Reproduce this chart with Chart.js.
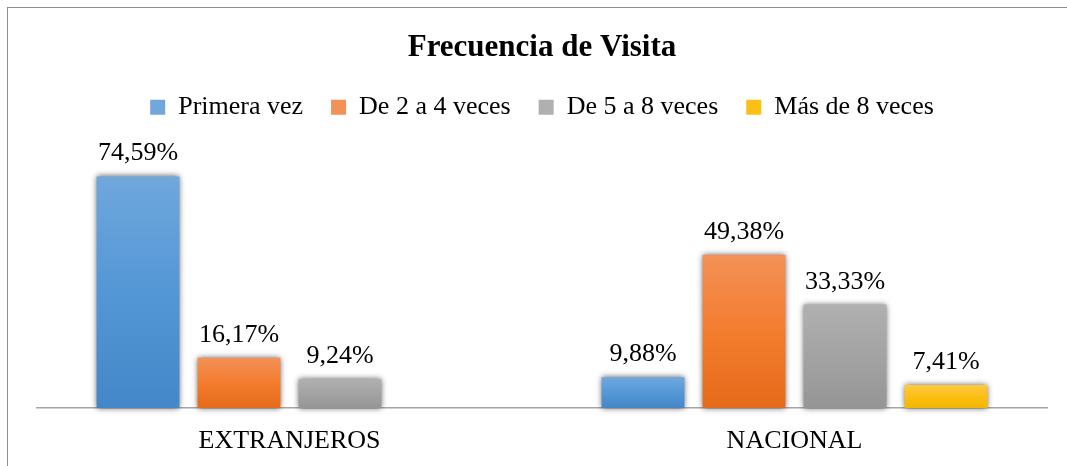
<!DOCTYPE html>
<html lang="es">
<head>
    <meta charset="UTF-8">
    <title>Frecuencia de Visita</title>
    <script src="https://cdn.jsdelivr.net/npm/chart.js"></script>
    <style>
        body { margin: 0; background: #fff; overflow: hidden; }
        #frame { position: absolute; left: 7px; top: 7px; width: 1100px; height: 500px; border: 1px solid #8e8e8e; }
        #visitChart { position: absolute; left: 0; top: 0; }
    </style>
</head>
<body>
    <div id="frame"></div>
    <canvas id="visitChart" width="1067" height="466"></canvas>
    <script>
        const categories = ['EXTRANJEROS', 'NACIONAL'];
        const seriesNames = ['Primera vez', 'De 2 a 4 veces', 'De 5 a 8 veces', 'Más de 8 veces'];
        const primeraVez = [74.59, 9.88];
        const de2a4 = [16.17, 49.38];
        const de5a8 = [9.24, 33.33];
        const masDe8 = [null, 7.41];

        const FONT = '"Liberation Serif", "Times New Roman", serif';

        // top, mid, bottom colours of each bar gradient
        const palette = [
            ['#70a7dd', '#5397d6', '#4387c8'],
            ['#f29158', '#f47c2e', '#e56b1a'],
            ['#b0b0b0', '#a3a3a3', '#959595'],
            ['#ffc940', '#fcbf14', '#f2b700']
        ];

        function barFill(colors) {
            return function(ctx) {
                const chart = ctx.chart;
                if (ctx.type !== 'data' || !chart.chartArea || ctx.raw == null) return colors[1];
                const y = chart.scales.y;
                const top = y.getPixelForValue(ctx.raw);
                const bottom = y.getPixelForValue(0);
                const g = chart.ctx.createLinearGradient(0, top, 0, bottom);
                g.addColorStop(0, colors[0]);
                g.addColorStop(0.5, colors[1]);
                g.addColorStop(1, colors[2]);
                return g;
            };
        }

        function fmt(v) {
            return v.toFixed(2).replace('.', ',') + '%';
        }

        // soft shadow behind the bars, then the value labels on top
        const barDecor = {
            id: 'barDecor',
            beforeDatasetsDraw(chart) {
                const ctx = chart.ctx;
                ctx.save();
                ctx.shadowColor = 'rgba(0,0,0,0.65)';
                ctx.shadowBlur = 6;
            },
            afterDatasetsDraw(chart) {
                const ctx = chart.ctx;
                ctx.restore();
                ctx.save();
                ctx.font = '26px ' + FONT;
                ctx.fillStyle = '#000';
                ctx.textAlign = 'center';
                ctx.textBaseline = 'alphabetic';
                chart.data.datasets.forEach((ds, i) => {
                    chart.getDatasetMeta(i).data.forEach((bar, j) => {
                        const v = ds.data[j];
                        if (v == null) return;
                        ctx.fillText(fmt(v), bar.x, bar.y - 16);
                    });
                });
                ctx.restore();
            }
        };

        const allSeries = [primeraVez, de2a4, de5a8, masDe8];

        new Chart(document.getElementById('visitChart'), {
            type: 'bar',
            data: {
                labels: categories,
                datasets: allSeries.map((values, i) => ({
                    label: seriesNames[i],
                    data: values,
                    backgroundColor: barFill(palette[i]),
                    borderWidth: 0,
                    categoryPercentage: 0.8,
                    barPercentage: 0.82,
                    clip: false
                }))
            },
            options: {
                responsive: false,
                animation: false,
                layout: { padding: { left: 37, right: 20, top: 0, bottom: 0 } },
                plugins: {
                    title: {
                        display: true,
                        text: 'Frecuencia de Visita',
                        color: '#000',
                        font: { family: FONT, size: 31, weight: 'bold' },
                        padding: { top: 29, bottom: 0 }
                    },
                    legend: {
                        position: 'top',
                        labels: {
                            color: '#000',
                            font: { family: FONT, size: 26 },
                            boxWidth: 15,
                            boxHeight: 15,
                            padding: 28
                        }
                    },
                    tooltip: { enabled: false }
                },
                scales: {
                    x: {
                        grid: { display: false, drawTicks: false },
                        border: { display: true, color: '#a6a6a6', width: 1.5 },
                        ticks: {
                            color: '#000',
                            padding: 18,
                            font: { family: FONT, size: 26 }
                        },
                        afterFit(scale) {
                            scale.height = 58;
                        }
                    },
                    y: {
                        display: false,
                        min: 0,
                        max: 89.5
                    }
                }
            },
            plugins: [barDecor]
        });
    </script>
</body>
</html>
